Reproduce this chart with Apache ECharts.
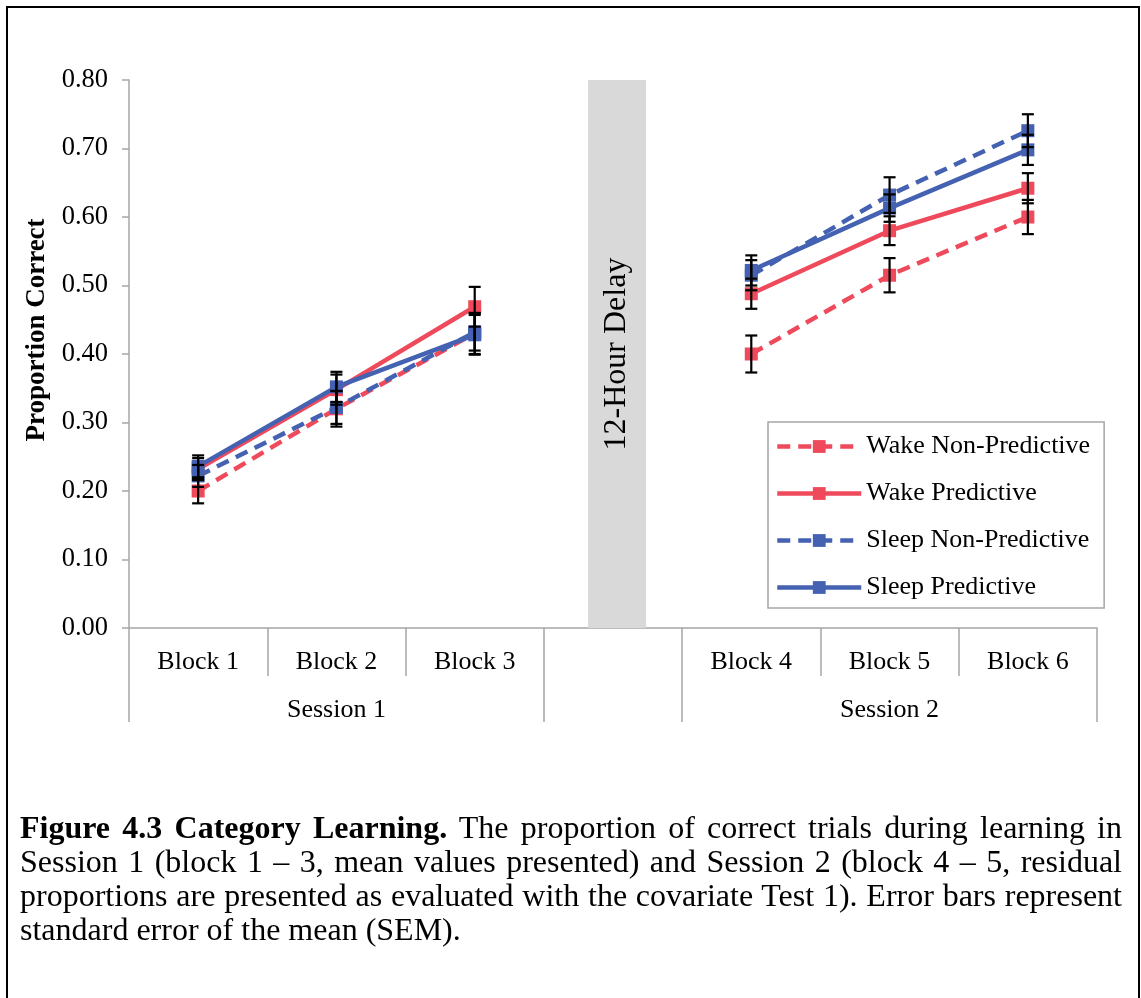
<!DOCTYPE html>
<html>
<head>
<meta charset="utf-8">
<script src="https://cdn.jsdelivr.net/npm/echarts@6/dist/echarts.min.js"></script>
<style>
  html, body { margin: 0; padding: 0; background: #fff; }
  #wrap { position: relative; width: 1141px; height: 998px; overflow: hidden; }
  #chart { position: absolute; left: 0; top: 0; width: 1141px; height: 998px; }
  #frame { position: absolute; left: 6px; top: 6px; width: 1134px; height: 1010px; border: 2.5px solid #000; box-sizing: border-box; pointer-events: none; }
  #caption { position: absolute; left: 20px; top: 810px; width: 1102px; font-family: "Liberation Serif", "Times New Roman", serif; font-size: 32px; line-height: 34px; text-align: justify; color: #000; }
</style>
</head>
<body>
<div id="wrap">
  <div id="chart"></div>
  <div id="frame"></div>
  <div id="caption"><b>Figure 4.3 Category Learning.</b> The proportion of correct trials during learning in Session 1 (block 1 – 3, mean values presented) and Session 2 (block 4 – 5, residual proportions are presented as evaluated with the covariate Test 1). Error bars represent standard error of the mean (SEM).</div>
</div>
<script>
// ---- data ----
const blocks = ['Block 1', 'Block 2', 'Block 3', '', 'Block 4', 'Block 5', 'Block 6'];
const sessions = ['', 'Session 1', '', '', '', 'Session 2', ''];
const yTicks = { min: 0, max: 0.8, interval: 0.1 };
const delayBand = [null, null, null, 0.80, null, null, null];
const delayLabel = '12-Hour Delay';

const seriesNames = ['Wake Non-Predictive', 'Wake Predictive', 'Sleep Non-Predictive', 'Sleep Predictive'];
const wakeNonPred  = [0.200, 0.320, 0.430, null, 0.400, 0.515, 0.600];
const wakePred     = [0.232, 0.348, 0.469, null, 0.488, 0.580, 0.642];
const sleepNonPred = [0.222, 0.322, 0.432, null, 0.515, 0.632, 0.726];
const sleepPred    = [0.236, 0.352, 0.428, null, 0.522, 0.613, 0.698];

const wakeNonPredSem  = [0.018, 0.026, 0.030, null, 0.027, 0.025, 0.025];
const wakePredSem     = [0.016, 0.022, 0.029, null, 0.022, 0.021, 0.022];
const sleepNonPredSem = [0.016, 0.024, 0.027, null, 0.022, 0.026, 0.024];
const sleepPredSem    = [0.016, 0.022, 0.029, null, 0.022, 0.020, 0.022];

// ---- styling ----
const RED = '#EF4A5B';
const BLUE = '#4462B1';
const FONT = '"Liberation Serif", "Times New Roman", serif';
const AXIS_GRAY = '#A6A6A6';

const values = [wakeNonPred, wakePred, sleepNonPred, sleepPred];
const sems = [wakeNonPredSem, wakePredSem, sleepNonPredSem, sleepPredSem];
const colors = [RED, RED, BLUE, BLUE];
const dashed = [true, false, true, false];

const chart = echarts.init(document.getElementById('chart'), null, { renderer: 'canvas' });

const lineSeries = seriesNames.map((name, k) => ({
  name: name,
  type: 'line',
  xAxisIndex: 0,
  data: values[k],
  connectNulls: false,
  symbol: 'rect',
  symbolSize: 13,
  showSymbol: true,
  color: colors[k],
  itemStyle: { color: colors[k] },
  lineStyle: { color: colors[k], width: 4.5, type: dashed[k] ? [13, 8] : 'solid' },
  z: 3,
  animation: false
}));

const errorSeries = seriesNames.map((name, k) => ({
  name: name + ' SEM',
  type: 'custom',
  xAxisIndex: 0,
  z: 4,
  data: values[k].map((v, i) => v == null ? null : [i, v - sems[k][i], v + sems[k][i]]).filter(d => d),
  renderItem: function (params, api) {
    const x = api.value(0);
    const lo = api.coord([x, api.value(1)]);
    const hi = api.coord([x, api.value(2)]);
    const hw = 6;
    const st = { stroke: '#000', lineWidth: 2.2 };
    return {
      type: 'group',
      children: [
        { type: 'line', shape: { x1: lo[0], y1: lo[1], x2: hi[0], y2: hi[1] }, style: st },
        { type: 'line', shape: { x1: lo[0] - hw, y1: lo[1], x2: lo[0] + hw, y2: lo[1] }, style: st },
        { type: 'line', shape: { x1: hi[0] - hw, y1: hi[1], x2: hi[0] + hw, y2: hi[1] }, style: st }
      ]
    };
  },
  animation: false
}));

const option = {
  backgroundColor: 'transparent',
  animation: false,
  grid: { left: 129, right: 44, top: 80, bottom: 370, containLabel: false },
  legend: {
    data: seriesNames,
    orient: 'vertical',
    left: 768,
    top: 422,
    itemWidth: 84,
    itemHeight: 16,
    itemGap: 16,
    padding: [9, 14, 5, 7],
    borderColor: AXIS_GRAY,
    borderWidth: 1.5,
    backgroundColor: '#fff',
    lineStyle: { width: 4.5 },
    itemStyle: { borderWidth: 0 },
    textStyle: { fontFamily: FONT, fontSize: 26, color: '#000', lineHeight: 31 }
  },
  xAxis: [
    {
      type: 'category',
      data: blocks,
      position: 'bottom',
      boundaryGap: true,
      axisLine: { show: true, lineStyle: { color: AXIS_GRAY, width: 1.5 } },
      axisTick: { show: true, interval: 0, length: 48, lineStyle: { color: AXIS_GRAY, width: 1.5 } },
      axisLabel: { interval: 0, margin: 21, fontFamily: FONT, fontSize: 26, color: '#000' },
      splitLine: { show: false }
    },
    {
      type: 'category',
      data: sessions,
      position: 'bottom',
      boundaryGap: true,
      axisLine: { show: false },
      axisTick: {
        show: true,
        interval: function (idx) { return idx === 0 || idx === 3 || idx === 4; },
        length: 94,
        lineStyle: { color: AXIS_GRAY, width: 1.5 }
      },
      axisLabel: { interval: 0, margin: 69, fontFamily: FONT, fontSize: 26, color: '#000' },
      splitLine: { show: false }
    }
  ],
  yAxis: {
    type: 'value',
    min: yTicks.min,
    max: yTicks.max,
    interval: yTicks.interval,
    name: 'Proportion Correct',
    nameLocation: 'middle',
    nameRotate: 90,
    nameGap: 73,
    nameTextStyle: { fontFamily: FONT, fontSize: 27, fontWeight: 'bold', color: '#000', padding: [0, 0, 0, 48] },
    axisLine: { show: true, lineStyle: { color: AXIS_GRAY, width: 1.5 } },
    axisTick: { show: true, length: 7, lineStyle: { color: AXIS_GRAY, width: 1.5 } },
    axisLabel: { margin: 21, fontFamily: FONT, fontSize: 26.5, color: '#000', formatter: v => v.toFixed(2) },
    splitLine: { show: false }
  },
  series: [
    {
      name: 'spacer',
      type: 'bar',
      xAxisIndex: 0,
      data: blocks.map(() => null),
      barWidth: 58,
      barGap: '-86%',
      silent: true,
      animation: false
    },
    {
      name: 'delay',
      type: 'bar',
      xAxisIndex: 0,
      data: delayBand,
      barWidth: 58,
      barGap: '-86%',
      itemStyle: { color: '#D9D9D9' },
      z: 1,
      label: {
        show: true,
        position: 'inside',
        rotate: 90,
        formatter: delayLabel,
        fontFamily: FONT,
        fontSize: 32,
        color: '#000'
      },
      silent: true,
      animation: false
    },
    ...lineSeries,
    ...errorSeries
  ]
};

chart.setOption(option);
</script>
</body>
</html>
